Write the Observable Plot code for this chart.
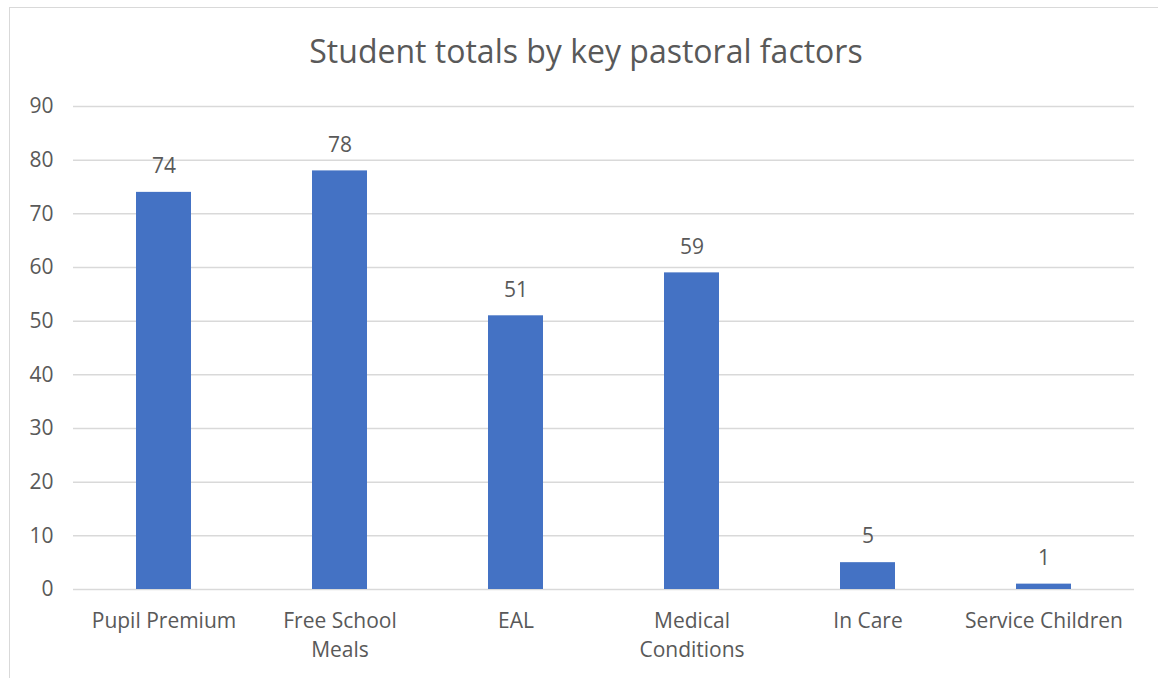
<!DOCTYPE html>
<html>
<head>
<meta charset="utf-8">
<script src="https://cdn.jsdelivr.net/npm/d3@7"></script>
<script src="https://cdn.jsdelivr.net/npm/@observablehq/plot@0.6"></script>
<style>
  html, body { margin: 0; padding: 0; background: #fff; }
  body { width: 1158px; height: 678px; position: relative; overflow: hidden; font-family: "Open Sans", sans-serif; }
  #frame { position: absolute; left: 9px; top: 7px; width: 1200px; height: 720px; border: 1.5px solid #d9d9d9; box-sizing: border-box; }
  #title { position: relative; height: 80px; box-sizing: border-box; padding-top: 35px; line-height: 32px; font-size: 32px; color: #595959; text-align: center; padding-left: 14px; }
  #chart { position: relative; }
</style>
</head>
<body>
<div id="frame"></div>
<div id="title">Student totals by key pastoral factors</div>
<div id="chart"></div>
<script>
// Pastoral factor categories and student counts
const categories = ["Pupil Premium", "Free School Meals", "EAL", "Medical Conditions", "In Care", "Service Children"];
const totals = [74, 78, 51, 59, 5, 1];
const tickLabels = ["Pupil Premium", "Free School\nMeals", "EAL", "Medical\nConditions", "In Care", "Service Children"];
const yTicks = [0, 10, 20, 30, 40, 50, 60, 70, 80, 90];

const data = categories.map((c, i) => ({category: c, total: totals[i]}));
const labelOf = new Map(categories.map((c, i) => [c, tickLabels[i]]));

const textColor = "#595959";
const gridColor = "#d9d9d9";
const barColor = "#4472C4";

const chart = Plot.plot({
  width: 1158,
  height: 598,
  marginTop: 26,
  marginBottom: 89,
  marginLeft: 73,
  marginRight: 24,
  style: {fontFamily: "Open Sans, sans-serif", fontSize: "21px", color: textColor, background: "transparent"},
  x: {domain: categories, paddingInner: 0.69, paddingOuter: 0.345, label: null},
  y: {domain: [0, 90], ticks: yTicks, label: null},
  marks: [
    Plot.gridY(yTicks, {stroke: gridColor, strokeOpacity: 1, strokeWidth: 1.5}),
    Plot.barY(data, {x: "category", y: "total", fill: barColor}),
    Plot.text(data, {x: "category", y: "total", text: d => String(d.total), dy: -26, fill: textColor, fontSize: 21}),
    Plot.axisY(yTicks, {tickSize: 0, tickPadding: 20, fill: textColor, fontSize: 21}),
    Plot.axisX({tickSize: 0, tickPadding: 18, fill: textColor, fontSize: 21, lineHeight: 1.38, tickFormat: d => labelOf.get(d), textOverflow: null})
  ]
});
document.getElementById("chart").appendChild(chart);
</script>
</body>
</html>
